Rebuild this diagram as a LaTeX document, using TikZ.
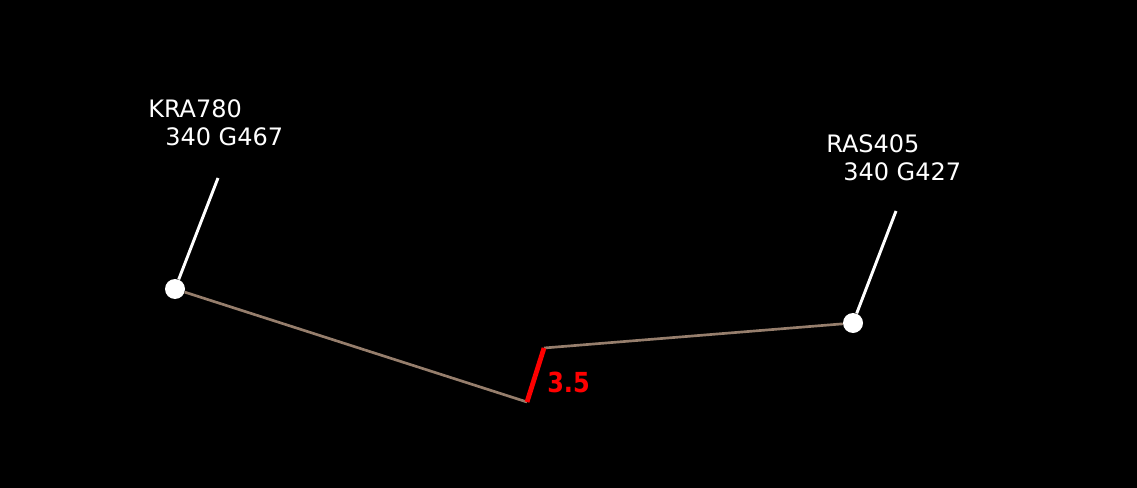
\documentclass[tikz,border=0pt]{standalone}
\usepackage{fontspec}
\usepackage{graphicx}
\setmainfont{DejaVu Sans}
\definecolor{track}{RGB}{150,126,108}
\definecolor{sepred}{RGB}{255,0,0}
\begin{document}
\begin{tikzpicture}[x=0.75pt, y=-0.75pt,
        dot/.style={circle, fill=white, inner sep=0pt, minimum size=15pt},
        tag/.style={anchor=base west, inner sep=0pt, text=white, font=\fontsize{18}{20}\selectfont},
        leader/.style={white, line width=2.2pt},
        route/.style={track, line width=2pt}]
        \fill[black] (0,0) rectangle (1137,488);
        \useasboundingbox (0,0) rectangle (1137,488);
        % aircraft
        \node[dot] (kra) at (175,289) {};
        \node[dot] (ras) at (853,323) {};
        \coordinate (kraend) at (218,178);
        \coordinate (rasend) at (896,211);
        \node[tag] (kraid) at (148,118) {KRA780};
        \node[tag] (kraalt) at (165,146) {340 G467};
        \node[tag] (rasid) at (826,153) {RAS405};
        \node[tag] (rasalt) at (843,181) {340 G427};
        \draw[leader] (kra) -- (kraend);
        \draw[leader] (ras) -- (rasend);
        % separation
        \coordinate (sepa) at (527,402);
        \coordinate (sepb) at (544,348);
        \draw[route] (kra) -- (sepa);
        \draw[route] (sepb) -- (ras);
        \draw[sepred, line width=3.6pt] (sepa) -- (sepb);
        \node[anchor=base west, inner sep=0pt, text=sepred, font=\bfseries\fontsize{18}{20}\selectfont] (sepval) at (547,392) {\scalebox{1}[1.15]{3.5}};
    \end{tikzpicture}
\end{document}
